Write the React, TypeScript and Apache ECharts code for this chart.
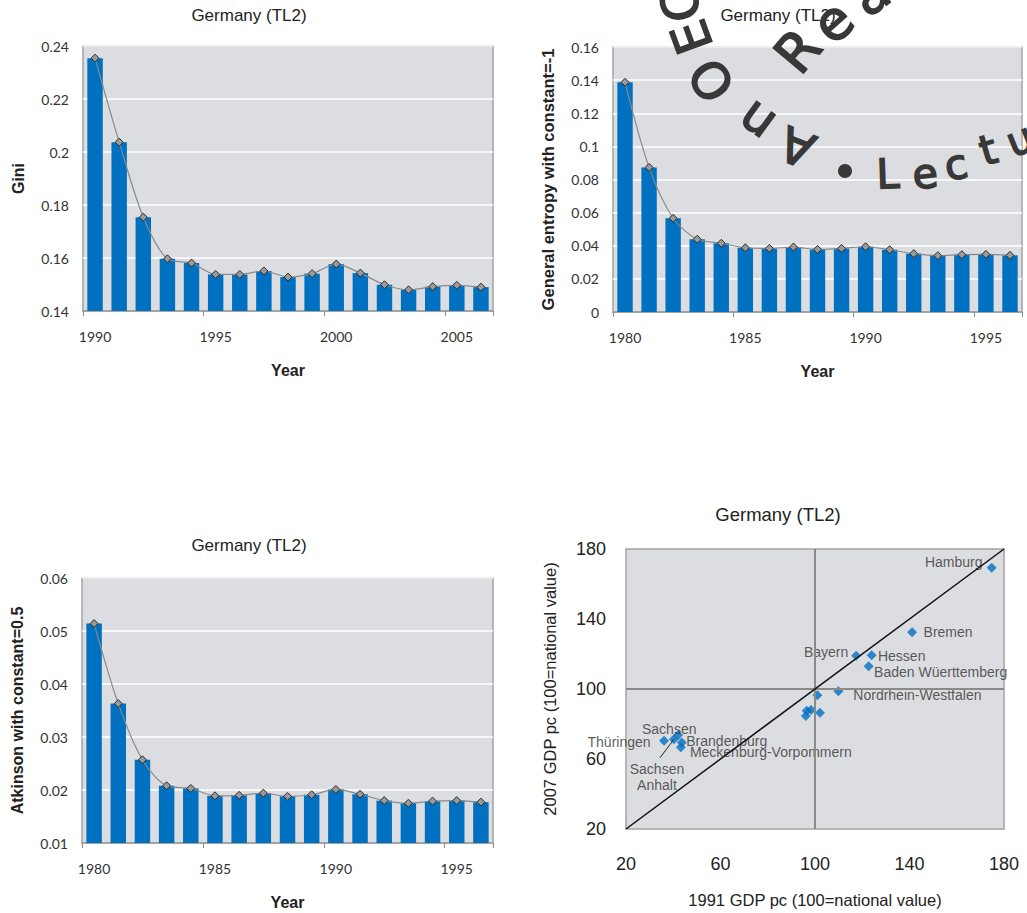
import React, { useEffect, useRef } from "react";
import * as echarts from "echarts";

// ---- Inequality indices, Germany (TL2) ----
const giniYears = ["1990", "1991", "1992", "1993", "1994", "1995", "1996", "1997", "1998", "1999", "2000", "2001", "2002", "2003", "2004", "2005", "2006"];
const giniValues = [0.2354, 0.2037, 0.1754, 0.1597, 0.1581, 0.1538, 0.1538, 0.1551, 0.1528, 0.1541, 0.1577, 0.1543, 0.1499, 0.148, 0.1492, 0.1497, 0.149];

const entropyYears = ["1980", "1981", "1982", "1983", "1984", "1985", "1986", "1987", "1988", "1989", "1990", "1991", "1992", "1993", "1994", "1995", "1996"];
const entropyValues = [0.1387, 0.0873, 0.0566, 0.0439, 0.0415, 0.0388, 0.0384, 0.0392, 0.0378, 0.0384, 0.0394, 0.0376, 0.0352, 0.034, 0.0346, 0.0348, 0.0342];

const atkinsonYears = ["1980", "1981", "1982", "1983", "1984", "1985", "1986", "1987", "1988", "1989", "1990", "1991", "1992", "1993", "1994", "1995", "1996"];
const atkinsonValues = [0.0514, 0.0363, 0.0257, 0.0208, 0.0203, 0.0189, 0.019, 0.0194, 0.0188, 0.0191, 0.0201, 0.0192, 0.018, 0.0175, 0.0179, 0.018, 0.0177];

// ---- Regional GDP per capita, 1991 vs 2007 (100 = national value) ----
const regionNames = ["Hamburg", "Bremen", "Bayern", "Hessen", "Baden Wüerttemberg", "Nordrhein-Westfalen", "", "", "", "", "", "Sachsen", "Thüringen", "Brandenburg", "Meckenburg-Vorpommern", "Sachsen Anhalt"];
const gdp1991 = [174.8, 141.1, 117.4, 124.0, 122.7, 109.9, 101.0, 96.5, 96.1, 102.1, 98.3, 42.1, 36.1, 43.6, 43.2, 40.3];
const gdp2007 = [169.3, 132.4, 119.0, 119.3, 113.0, 98.7, 96.4, 87.6, 84.6, 86.5, 88.0, 73.7, 70.5, 69.5, 66.7, 71.3];

const scatterTicks = { min: 20, max: 180, interval: 40 };

// label placement around each diamond (pixel offsets from the marker centre)
const labelOffsets: Record<string, [number, number]> = {
  Hamburg: [-38, -6],
  Bremen: [36, 0],
  Bayern: [-30, -4],
  Hessen: [30, 1],
  "Baden Wüerttemberg": [72, 6],
  "Nordrhein-Westfalen": [79, 4],
  Sachsen: [-9, -6],
  "Thüringen": [-45, 1],
  Brandenburg: [45, -1],
  "Meckenburg-Vorpommern": [90, 5],
  "Sachsen Anhalt": [-17, 38],
};

const BLUE = "#0070c0";
const PLOT_BG = "#dcdde0";
const BORDER = "#a3a3a3";
const TICK_FONT = "Lato";
const SANS = "Liberation Sans";
const STAMP_INK = "#383838";

type Panel = {
  years: string[];
  values: number[];
  yName: string;
  yNameSize: number;
  min: number;
  max: number;
  interval: number;
  grid: { left: number; top: number; width: number; height: number };
  title: [number, number];
};

const barPanels: Panel[] = [
  { years: giniYears, values: giniValues, yName: "Gini", yNameSize: 16, min: 0.14, max: 0.24, interval: 0.02, grid: { left: 83, top: 46, width: 410, height: 265 }, title: [249, 15] },
  { years: entropyYears, values: entropyValues, yName: "General entropy with constant=-1", yNameSize: 16.5, min: 0, max: 0.16, interval: 0.02, grid: { left: 613, top: 47, width: 409, height: 265 }, title: [778, 15] },
  { years: atkinsonYears, values: atkinsonValues, yName: "Atkinson with constant=0.5", yNameSize: 16, min: 0.01, max: 0.06, interval: 0.01, grid: { left: 82, top: 578, width: 411, height: 265 }, title: [249, 545] },
];

// circular stamp lettering laid over the upper right panel
const stampGlyphs = [
  { ch: "C", x: 681, y: 4, rot: 100, size: 50 },
  { ch: "E", x: 692, y: 37, rot: 110, size: 50 },
  { ch: "O", x: 712, y: 80, rot: 125, size: 50 },
  { ch: "n", x: 756, y: 122, rot: 144, size: 50 },
  { ch: "A", x: 797, y: 147, rot: 158, size: 48 },
  { ch: "R", x: 798, y: 51, rot: 50, size: 54 },
  { ch: "e", x: 833, y: 22, rot: 42, size: 54 },
  { ch: "a", x: 870, y: -6, rot: 36, size: 54 },
  { ch: "L", x: 888, y: 174, rot: 2, size: 41 },
  { ch: "e", x: 925, y: 174, rot: 6, size: 41 },
  { ch: "c", x: 956, y: 165, rot: 11, size: 41 },
  { ch: "t", x: 988, y: 150, rot: 16, size: 41 },
  { ch: "u", x: 1020, y: 140, rot: 22, size: 41 },
];

function titleText(text: string, x: number, y: number, size: number) {
  return {
    type: "text",
    x,
    y,
    z: 50,
    style: {
      text,
      fill: "#222",
      font: `${size}px "${SANS}"`,
      textAlign: "center",
      textVerticalAlign: "middle",
      align: "center",
      verticalAlign: "middle",
    },
  };
}

function buildOption() {
  const grids: any[] = [];
  const xAxes: any[] = [];
  const yAxes: any[] = [];
  const series: any[] = [];
  const graphics: any[] = [];

  barPanels.forEach((p, i) => {
    grids.push({ ...p.grid, show: true, backgroundColor: PLOT_BG, borderColor: BORDER, borderWidth: 1.5 });
    xAxes.push({
      type: "category",
      gridIndex: i,
      data: p.years,
      boundaryGap: true,
      axisLine: { lineStyle: { color: "#8c8c8c", width: 1.5 } },
      axisTick: { show: true, interval: 4, length: 5, lineStyle: { color: "#8c8c8c" } },
      axisLabel: { interval: 4, fontFamily: TICK_FONT, fontSize: 14, color: "#333", margin: 18 },
      name: "Year",
      nameLocation: "middle",
      nameGap: 51,
      nameTextStyle: { fontFamily: SANS, fontSize: 16, fontWeight: "bold", color: "#222" },
    });
    yAxes.push({
      type: "value",
      gridIndex: i,
      min: p.min,
      max: p.max,
      interval: p.interval,
      axisLine: { show: false },
      axisTick: { show: false },
      splitLine: { lineStyle: { color: "#ffffff", width: 1.5 } },
      axisLabel: { fontFamily: TICK_FONT, fontSize: 14, color: "#333", margin: 14 },
      name: p.yName,
      nameLocation: "middle",
      nameRotate: 90,
      nameGap: 57,
      nameTextStyle: { fontFamily: SANS, fontSize: p.yNameSize, fontWeight: "bold", color: "#222" },
    });
    series.push({
      type: "bar",
      xAxisIndex: i,
      yAxisIndex: i,
      data: p.values,
      barWidth: "64%",
      itemStyle: { color: BLUE },
      z: 2,
    });
    series.push({
      type: "line",
      xAxisIndex: i,
      yAxisIndex: i,
      data: p.values,
      smooth: 0.3,
      symbol: "diamond",
      symbolSize: 8,
      showAllSymbol: true,
      lineStyle: { color: "#8a8a8a", width: 1.2 },
      itemStyle: { color: "#9a9a9a", borderColor: "#2a2a2a", borderWidth: 1 },
      z: 3,
    });
    graphics.push(titleText("Germany (TL2)", p.title[0], p.title[1], 17));
  });

  // scatter panel
  const si = barPanels.length;
  grids.push({ left: 626, top: 549, width: 378, height: 280, show: true, backgroundColor: PLOT_BG, borderColor: BORDER, borderWidth: 1.5 });
  const scatterAxisText = { fontFamily: SANS, fontSize: 18, color: "#222" };
  xAxes.push({
    type: "value",
    gridIndex: si,
    ...scatterTicks,
    axisLine: { show: false },
    axisTick: { show: false },
    splitLine: { show: false },
    axisLabel: { ...scatterAxisText, margin: 26 },
    name: "1991 GDP pc (100=national value)",
    nameLocation: "middle",
    nameGap: 62,
    nameTextStyle: { fontFamily: SANS, fontSize: 16.5, color: "#222" },
  });
  yAxes.push({
    type: "value",
    gridIndex: si,
    ...scatterTicks,
    axisLine: { show: false },
    axisTick: { show: false },
    splitLine: { show: false },
    axisLabel: { ...scatterAxisText, margin: 20 },
    name: "2007 GDP pc (100=national value)",
    nameLocation: "middle",
    nameRotate: 90,
    nameGap: 68,
    nameTextStyle: { fontFamily: SANS, fontSize: 16.5, color: "#222" },
  });

  const saPoint = [gdp1991[15], gdp2007[15]];
  series.push({
    type: "scatter",
    xAxisIndex: si,
    yAxisIndex: si,
    symbol: "diamond",
    symbolSize: 10,
    itemStyle: { color: BLUE },
    data: gdp1991.map((x, k) => {
      const name = regionNames[k];
      const off = labelOffsets[name];
      return {
        name,
        value: [x, gdp2007[k]],
        label: off
          ? {
              show: true,
              position: "inside",
              offset: off,
              formatter: name === "Sachsen Anhalt" ? "Sachsen\nAnhalt" : name,
              fontFamily: SANS,
              fontSize: 14,
              lineHeight: 16,
              color: "#333",
              align: "center",
            }
          : { show: false },
      };
    }),
    markLine: {
      silent: true,
      symbol: ["none", "none"],
      label: { show: false },
      data: [
        { xAxis: 100, lineStyle: { color: "#8a8a8a", width: 2, type: "solid" } },
        { yAxis: 100, lineStyle: { color: "#8a8a8a", width: 2, type: "solid" } },
        [
          { coord: [scatterTicks.min, scatterTicks.min], lineStyle: { color: "#111", width: 1.5, type: "solid" } },
          { coord: [scatterTicks.max, scatterTicks.max] },
        ],
        [
          { coord: saPoint, lineStyle: { color: "#222", width: 1, type: "solid" } },
          { coord: [34.4, 60.7] },
        ],
      ],
    },
    z: 4,
  });
  graphics.push(titleText("Germany (TL2)", 778, 514, 18.5));

  // stamp lettering (a thin outline in the same ink gives the heavier stroke)
  stampGlyphs.forEach((g) => {
    graphics.push({
      type: "text",
      x: g.x,
      y: g.y,
      rotation: (g.rot * Math.PI) / 180,
      z: 100,
      silent: true,
      style: {
        text: g.ch,
        fill: STAMP_INK,
        stroke: STAMP_INK,
        lineWidth: 1.6,
        font: `${g.size}px "DejaVu Sans"`,
        textAlign: "center",
        textVerticalAlign: "middle",
        align: "center",
        verticalAlign: "middle",
      },
    });
  });
  graphics.push({
    type: "circle",
    z: 100,
    silent: true,
    shape: { cx: 845, cy: 171, r: 7 },
    style: { fill: STAMP_INK },
  });

  return {
    animation: false,
    backgroundColor: "#ffffff",
    grid: grids,
    xAxis: xAxes,
    yAxis: yAxes,
    series,
    graphic: { elements: graphics },
  };
}

export default function App() {
  const ref = useRef<HTMLDivElement>(null);
  useEffect(() => {
    if (!ref.current) return;
    const chart = echarts.init(ref.current, null, { renderer: "svg" });
    chart.setOption(buildOption() as any);
    return () => chart.dispose();
  }, []);
  return (
    <div
      ref={ref}
      style={{ position: "absolute", left: 0, top: 0, width: 1027, height: 913, background: "#fff" }}
    />
  );
}
